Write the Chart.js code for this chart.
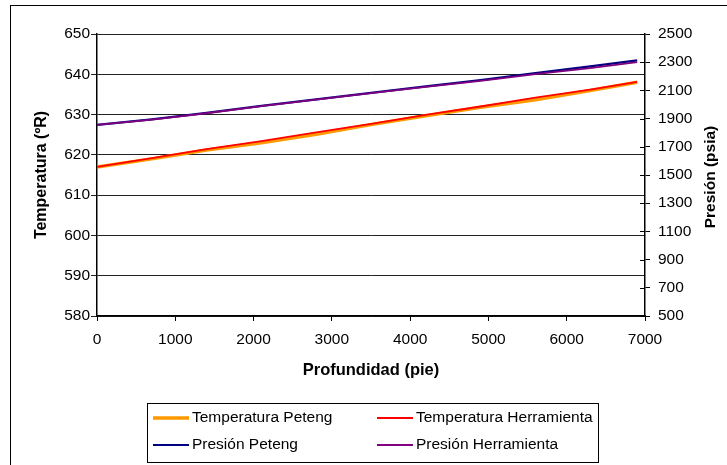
<!DOCTYPE html>
<html>
<head>
<meta charset="utf-8">
<script src="https://cdn.jsdelivr.net/npm/chart.js@4/dist/chart.umd.min.js"></script>
<style>
  body { margin: 0; background: #fff; }
  #frame { position: absolute; left: 10px; top: 5px; width: 760px; height: 500px; border: 1px solid #000; }
  #c { position: absolute; left: 0; top: 0; }
</style>
</head>
<body>
<div id="frame"></div>
<canvas id="c" width="727" height="465"></canvas>
<script>
// profundidad (pie)
var depths = [0, 700, 1400, 2100, 2800, 3500, 4200, 4900, 5600, 6300, 6900];
// temperatura (ºR)
var tempPeteng = [617.0, 619.0, 621.2, 623.0, 625.1, 627.5, 629.7, 631.8, 633.7, 636.0, 638.0];
var tempHerramienta = [617.0, 619.2, 621.4, 623.4, 625.6, 627.7, 629.9, 632.0, 634.2, 636.2, 638.1];
// presion (psia)
var presPeteng = [1855, 1895, 1940, 1990, 2037, 2083, 2128, 2173, 2222, 2270, 2313];
var presHerramienta = [1855, 1893, 1938, 1988, 2035, 2080, 2125, 2168, 2215, 2258, 2300];

var tempTicks = { min: 580, max: 650, step: 10 };
var presTicks = { min: 500, max: 2500, step: 200 };
var depthTicks = { min: 0, max: 7000, step: 1000 };

var FONT = '"Liberation Sans", Arial, sans-serif';

function pts(ys) {
  return depths.map(function (d, i) { return { x: d, y: ys[i] }; });
}
function plain(v) { return String(v); }

// legend in a box (two columns), right-hand title read upward, ticks crossing the right axis
var extras = {
  id: 'extras',
  afterDraw: function (chart) {
    var ctx = chart.ctx;
    var y1 = chart.scales.y1;
    ctx.save();
    ctx.strokeStyle = '#000';
    ctx.lineWidth = 1;
    y1.ticks.forEach(function (t) {
      var py = Math.round(y1.getPixelForValue(t.value)) + 0.5;
      ctx.beginPath();
      ctx.moveTo(y1.left - 5, py);
      ctx.lineTo(y1.left, py);
      ctx.stroke();
    });

    ctx.translate(711, 177);
    ctx.rotate(-Math.PI / 2);
    ctx.fillStyle = '#000';
    ctx.font = 'bold 15.5px ' + FONT;
    ctx.textAlign = 'center';
    ctx.textBaseline = 'middle';
    ctx.fillText('Presión (psia)', 0, 0);
    ctx.restore();

    ctx.save();
    ctx.fillStyle = '#fff';
    ctx.strokeStyle = '#000';
    ctx.lineWidth = 1;
    ctx.fillRect(147.5, 403.5, 451, 59);
    ctx.strokeRect(147.5, 403.5, 451, 59);
    ctx.font = '15.5px ' + FONT;
    ctx.textBaseline = 'middle';
    chart.data.datasets.forEach(function (ds, i) {
      var x = i % 2 === 0 ? 153 : 377;
      var y = i < 2 ? 418 : 445;
      ctx.strokeStyle = ds.borderColor;
      ctx.lineWidth = ds.borderWidth;
      ctx.beginPath();
      ctx.moveTo(x, y);
      ctx.lineTo(x + 36, y);
      ctx.stroke();
      ctx.fillStyle = '#000';
      ctx.fillText(ds.label, x + 39, y);
    });
    ctx.restore();
  }
};

window.onload = function () {
  new Chart(document.getElementById('c'), {
    type: 'line',
    data: {
      datasets: [
        { label: 'Temperatura Peteng', data: pts(tempPeteng), yAxisID: 'y', order: 2, borderColor: '#FF9900', borderWidth: 3.5, pointRadius: 0, tension: 0 },
        { label: 'Temperatura Herramienta', data: pts(tempHerramienta), yAxisID: 'y', order: 1, borderColor: '#FF0000', borderWidth: 1.8, pointRadius: 0, tension: 0 },
        { label: 'Presión Peteng', data: pts(presPeteng), yAxisID: 'y1', order: 2, borderColor: '#000080', borderWidth: 2.2, pointRadius: 0, tension: 0 },
        { label: 'Presión Herramienta', data: pts(presHerramienta), yAxisID: 'y1', order: 1, borderColor: '#800080', borderWidth: 1.8, pointRadius: 0, tension: 0 }
      ]
    },
    options: {
      responsive: false,
      animation: false,
      layout: { padding: { left: 28, top: 34, right: 7, bottom: 81 } },
      plugins: { legend: { display: false }, tooltip: { enabled: false } },
      scales: {
        x: {
          type: 'linear',
          min: depthTicks.min, max: depthTicks.max,
          ticks: { stepSize: depthTicks.step, callback: plain, color: '#000', padding: 9, font: { size: 15.5, family: FONT } },
          grid: { drawOnChartArea: false, tickLength: 5, color: '#000' },
          border: { color: '#000', width: 1.5 },
          title: { display: true, text: 'Profundidad (pie)', color: '#000', font: { size: 16.5, weight: 'bold', family: FONT } },
          afterFit: function (s) { s.height = 68; }
        },
        y: {
          position: 'left',
          min: tempTicks.min, max: tempTicks.max,
          ticks: { stepSize: tempTicks.step, callback: plain, color: '#000', padding: 1, font: { size: 15.5, family: FONT } },
          grid: { color: '#222', tickLength: 6 },
          border: { color: '#000', width: 1.5 },
          title: { display: true, text: 'Temperatura (ºR)', color: '#000', font: { size: 16, weight: 'bold', family: FONT } },
          afterFit: function (s) { s.width = 69; }
        },
        y1: {
          position: 'right',
          min: presTicks.min, max: presTicks.max,
          ticks: { stepSize: presTicks.step, callback: plain, color: '#000', padding: 8, font: { size: 15.5, family: FONT } },
          grid: { drawOnChartArea: false, tickLength: 5, color: '#000' },
          border: { color: '#000', width: 1.5 },
          afterFit: function (s) { s.width = 75; }
        }
      }
    },
    plugins: [extras]
  });
};
</script>
</body>
</html>
